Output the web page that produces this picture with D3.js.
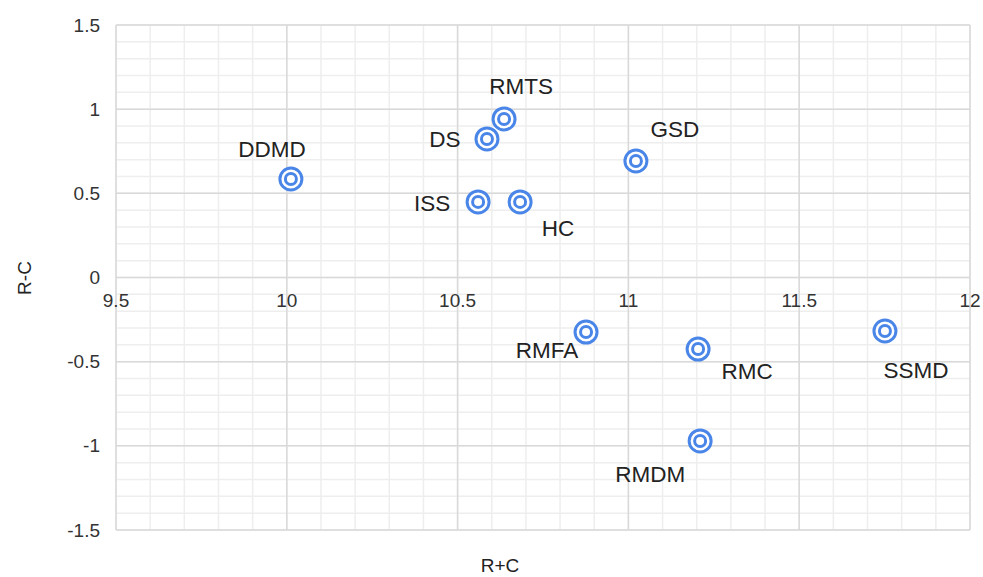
<!DOCTYPE html>
<html>
<head>
<meta charset="utf-8">
<script src="https://cdn.jsdelivr.net/npm/d3@7"></script>
<style>
  body { margin: 0; background: #fff; }
  svg { display: block; font-family: "Liberation Sans", Arial, sans-serif; }
</style>
</head>
<body>
<svg id="chart" width="983" height="577"></svg>
<script>
// data
const labels = ['DDMD', 'RMTS', 'DS', 'GSD', 'ISS', 'HC', 'RMFA', 'RMC', 'RMDM', 'SSMD'];
const xValues = [10.012, 10.636, 10.586, 11.022, 10.560, 10.683, 10.876, 11.204, 11.210, 11.751];
const yValues = [0.585, 0.942, 0.823, 0.692, 0.449, 0.449, -0.324, -0.425, -0.971, -0.318];
const xTicks = [9.5, 10, 10.5, 11, 11.5, 12];
const yTicks = [-1.5, -1, -0.5, 0, 0.5, 1, 1.5];

// label centre offsets relative to the marker (dx, dy)
const labelOffsets = [[-19, -30], [17, -33], [-42, 0], [39, -32], [-46, 1], [38, 26], [-39, 18], [49, 22], [-50, 33], [31, 39]];

const svg = d3.select('#chart');
const x = d3.scaleLinear().domain([9.5, 12]).range([116, 970]);
const y = d3.scaleLinear().domain([-1.5, 1.5]).range([530, 25]);

// minor grid
const minorX = d3.range(95, 121).map(d => d / 10);
const minorY = d3.range(-15, 16).map(d => d / 10);
const grid = svg.append('g');
grid.selectAll('.mx').data(minorX).enter().append('line')
  .attr('x1', d => x(d)).attr('x2', d => x(d)).attr('y1', y(1.5)).attr('y2', y(-1.5))
  .attr('stroke', '#eeeeee').attr('stroke-width', 1.5);
grid.selectAll('.my').data(minorY).enter().append('line')
  .attr('x1', x(9.5)).attr('x2', x(12)).attr('y1', d => y(d)).attr('y2', d => y(d))
  .attr('stroke', '#eeeeee').attr('stroke-width', 1.5);

// major grid
grid.selectAll('.Mx').data(xTicks).enter().append('line')
  .attr('x1', d => x(d)).attr('x2', d => x(d)).attr('y1', y(1.5)).attr('y2', y(-1.5))
  .attr('stroke', '#d9d9d9').attr('stroke-width', 1.5);
grid.selectAll('.My').data(yTicks).enter().append('line')
  .attr('x1', x(9.5)).attr('x2', x(12)).attr('y1', d => y(d)).attr('y2', d => y(d))
  .attr('stroke', '#d9d9d9').attr('stroke-width', 1.5);

// y axis tick labels
svg.append('g').selectAll('text').data(yTicks).enter().append('text')
  .attr('x', 100).attr('y', d => y(d) + 6.5)
  .attr('text-anchor', 'end').attr('font-size', 19).attr('fill', '#333')
  .text(d => String(d));

// x axis tick labels (sit just below the zero line)
svg.append('g').selectAll('text').data(xTicks).enter().append('text')
  .attr('x', d => x(d)).attr('y', y(0) + 29)
  .attr('text-anchor', 'middle').attr('font-size', 19).attr('fill', '#333')
  .text(d => String(d));

// axis titles
svg.append('text').attr('transform', 'translate(31,278) rotate(-90)')
  .attr('text-anchor', 'middle').attr('font-size', 19).attr('fill', '#222').text('R-C');
svg.append('text').attr('x', 500).attr('y', 572)
  .attr('text-anchor', 'middle').attr('font-size', 19).attr('fill', '#222').text('R+C');

// points
const pts = labels.map((l, i) => ({ label: l, x: xValues[i], y: yValues[i], off: labelOffsets[i] }));
const g = svg.append('g').selectAll('g').data(pts).enter().append('g')
  .attr('transform', d => `translate(${x(d.x)},${y(d.y)})`);
g.append('circle').attr('r', 11).attr('fill', '#fff')
  .attr('stroke', '#4a86e8').attr('stroke-width', 3);
g.append('circle').attr('r', 5.5).attr('fill', 'none')
  .attr('stroke', '#4a86e8').attr('stroke-width', 3);
g.append('text').attr('x', d => d.off[0]).attr('y', d => d.off[1] + 8)
  .attr('text-anchor', 'middle').attr('font-size', 22.5).attr('fill', '#222')
  .text(d => d.label);
</script>
</body>
</html>
